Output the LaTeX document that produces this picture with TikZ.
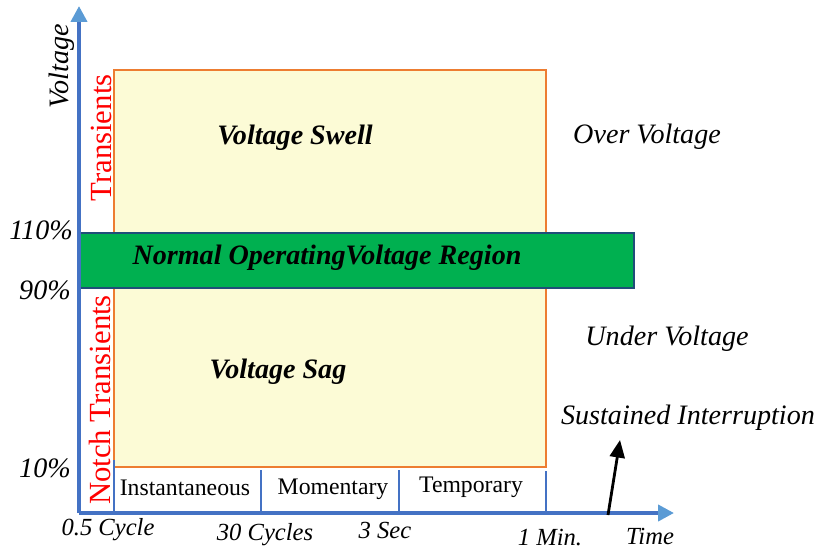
\documentclass[tikz,border=0pt]{standalone}
\usepackage{fontspec}
\setmainfont{Liberation Serif}
\usetikzlibrary{positioning,arrows.meta}
\definecolor{axisblue}{HTML}{4472C4}
\definecolor{tipblue}{HTML}{5B9BD5}
\definecolor{boxorange}{HTML}{ED7D31}
\definecolor{boxyellow}{HTML}{FCFBD6}
\definecolor{bandgreen}{HTML}{00B050}
\definecolor{banddark}{HTML}{1F4E79}

\begin{document}
\begin{tikzpicture}[
        x=0.02cm, y=-0.02cm,
        axis/.style={axisblue, line width=2.2pt, -{Triangle[length=9pt, width=9pt, color=tipblue, fill=tipblue]}},
        tick/.style={axisblue, line width=1.6pt},
        lbl/.style={font=\fontsize{14}{16}\selectfont\itshape, inner sep=1pt},
        biglbl/.style={font=\fontsize{16}{18}\selectfont\itshape, inner sep=1pt},
        blbl/.style={font=\fontsize{16}{18}\selectfont\bfseries\itshape, inner sep=1pt},
        cls/.style={font=\fontsize{13.5}{15}\selectfont, inner sep=1pt},
        red/.style={font=\fontsize{17.5}{19}\selectfont, text=red, rotate=90, inner sep=1pt},
        arr/.style={-{Triangle[length=10pt, width=8.5pt]}, black, line width=1.6pt},
      ]
        \useasboundingbox (0,0) rectangle (820,550);

        % Regions
        \draw[boxorange, fill=boxyellow, line width=1.2pt] (114,70) rectangle (546,467);
        \draw[banddark, fill=bandgreen, line width=1.2pt] (79,233) rectangle (634,288);

        % Axes
        \coordinate (origin) at (79,513);
        \coordinate (ytip) at (79,6);
        \coordinate (xtip) at (674,513);
        \draw[axis] (origin) -- (ytip);
        \draw[axis] (origin) -- (xtip);

        % Ticks
        \draw[tick] (114,460) -- (114,513);
        \draw[tick] (261,470) -- (261,513);
        \draw[tick] (399,470) -- (399,513);
        \draw[tick] (546,471) -- (546,513);

        % Duration classes
        \node[cls] (inst) at (185,488) {Instantaneous};
        \node[cls] (mom) at (333,489) {Momentary};
        \node[cls] (temp) at (471,487) {Temporary};

        % Time marks
        \node[lbl] (t1) at (108,530) {0.5 Cycle};
        \node[lbl] (t2) at (265,535) {30 Cycles};
        \node[lbl] (t3) at (385,530) {3 Sec};
        \node[lbl] (t4) at (550,538) {1 Min.};
        \node[lbl] (time) at (650,536) {Time};

        % Voltage marks
        \node[biglbl] (v110) at (41,230) {110\%};
        \node[biglbl] (v90) at (45,290) {90\%};
        \node[biglbl] (v10) at (45,468) {10\%};
        \node[biglbl, rotate=90] (volt) at (62,66) {Voltage};

        % Transients
        \node[red] (tr) at (101,138) {Transients};
        \node[red] (ntr) at (100,400) {Notch Transients};

        % Region labels
        \node[blbl] (swell) at (295,138) {Voltage Swell};
        \node[blbl] (normal) at (327,258) {Normal OperatingVoltage Region};
        \node[blbl] (sag) at (278,372) {Voltage Sag};
        \node[biglbl] (over) at (647,137) {Over Voltage};
        \node[biglbl] (under) at (667,339) {Under Voltage};
        \node[biglbl] (sust) at (688,418) {Sustained Interruption};

        % Interruption arrow
        \coordinate (sfoot) at (608,515);
        \coordinate (shead) at (620,440);
        \draw[arr] (sfoot) -- (shead);
      \end{tikzpicture}
\end{document}
